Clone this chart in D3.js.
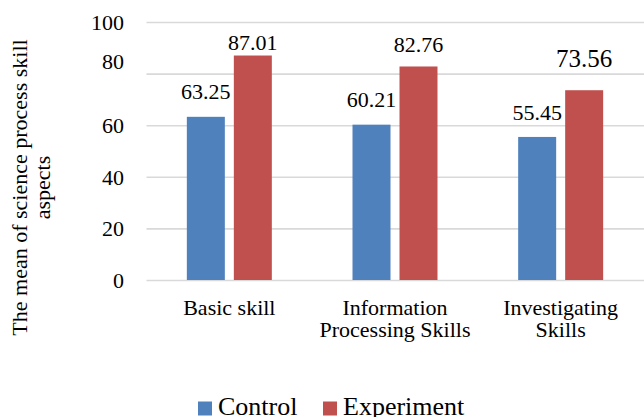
<!DOCTYPE html>
<html>
<head>
<meta charset="utf-8">
<script src="https://cdn.jsdelivr.net/npm/d3@7"></script>
<style>
  html, body { margin: 0; padding: 0; background: #fff; }
  svg { display: block; }
</style>
</head>
<body>
<svg id="chart" width="644" height="417"></svg>
<script>
// Mean scores of science process skill aspects
const categories = [["Basic skill"], ["Information", "Processing Skills"], ["Investigating", "Skills"]];
const seriesNames = ["Control", "Experiment"];
const controlValues = [63.25, 60.21, 55.45];
const experimentValues = [87.01, 82.76, 73.56];
const yTicks = [0, 20, 40, 60, 80, 100];
const seriesColors = ["#4F81BD", "#C0504D"];

const FONT = "Liberation Serif, Times New Roman, serif";
const svg = d3.select("#chart").attr("font-family", FONT);
const plot = { left: 146.5, right: 643.5, top: 22, bottom: 280 };

const catKeys = categories.map(c => c.join(" "));
const x0 = d3.scaleBand()
  .domain(catKeys)
  .range([plot.left, plot.right])
  .paddingInner(0.487)
  .paddingOuter(0.2435);
const x1 = d3.scaleBand()
  .domain(seriesNames)
  .range([0, x0.bandwidth()])
  .paddingInner(0.1915)
  .paddingOuter(0);
const y = d3.scaleLinear().domain([0, 100]).range([plot.bottom, plot.top]);

// Gridlines and value axis
const yAxis = d3.axisLeft(y)
  .tickValues(yTicks)
  .tickSizeInner(-(plot.right - plot.left) - 1)
  .tickSizeOuter(0)
  .tickPadding(22.5)
  .tickFormat(d3.format("d"));
const gy = svg.append("g")
  .attr("transform", `translate(${plot.left},0)`)
  .call(yAxis)
  .attr("font-family", FONT)
  .attr("font-size", 22);
gy.select(".domain").remove();
gy.selectAll(".tick line").attr("stroke", "#d9d9d9").attr("stroke-width", 1.6);
gy.selectAll(".tick text")
  .attr("fill", "#000")
  .attr("font-family", FONT)
  .attr("font-size", 22)
  .attr("dy", d => d === 80 ? "-0.22em" : "0.34em");

// Bars
const rows = catKeys.map((k, i) => ({
  key: k,
  values: [
    { name: seriesNames[0], value: controlValues[i], idx: i },
    { name: seriesNames[1], value: experimentValues[i], idx: i }
  ]
}));
const labelGap = { Control: [18, 18, 17], Experiment: [6, 14, 23] };
const labelSize = { Control: [22, 22, 22], Experiment: [22, 22, 25] };

const groups = svg.append("g").selectAll("g")
  .data(rows).join("g")
  .attr("transform", d => `translate(${x0(d.key)},0)`);

groups.selectAll("rect")
  .data(d => d.values).join("rect")
  .attr("x", d => x1(d.name))
  .attr("y", d => y(d.value))
  .attr("width", x1.bandwidth())
  .attr("height", d => y(0) - y(d.value))
  .attr("fill", (d, i) => seriesColors[i]);

groups.selectAll("text.val")
  .data(d => d.values).join("text")
  .attr("class", "val")
  .attr("x", d => x1(d.name) + x1.bandwidth() / 2)
  .attr("y", d => y(d.value) - labelGap[d.name][d.idx])
  .attr("text-anchor", "middle")
  .attr("font-family", FONT)
  .attr("font-size", d => labelSize[d.name][d.idx])
  .attr("fill", "#000")
  .text(d => d3.format(".2f")(d.value));

// Category labels
const catG = svg.append("g");
categories.forEach((lines, i) => {
  const cx = x0(catKeys[i]) + x0.bandwidth() / 2;
  const t = catG.append("text")
    .attr("text-anchor", "middle")
    .attr("font-family", FONT)
    .attr("font-size", 22)
    .attr("fill", "#000");
  lines.forEach((ln, j) => {
    t.append("tspan").attr("x", cx).attr("y", 315 + j * 21.5).text(ln);
  });
});

// Axis title
const title = svg.append("text")
  .attr("transform", "translate(0,187.5) rotate(-90)")
  .attr("text-anchor", "middle")
  .attr("font-family", FONT)
  .attr("font-size", 22)
  .attr("fill", "#000");
title.append("tspan").attr("x", 0).attr("y", 27).text("The mean of science process skill");
title.append("tspan").attr("x", 0).attr("y", 50).text("aspects");

// Legend
const legend = svg.append("g");
const legendItems = [
  { name: seriesNames[0], color: seriesColors[0], x: 198 },
  { name: seriesNames[1], color: seriesColors[1], x: 323 }
];
legendItems.forEach(it => {
  legend.append("rect")
    .attr("x", it.x).attr("y", 401.5)
    .attr("width", 14).attr("height", 14)
    .attr("fill", it.color);
  legend.append("text")
    .attr("x", it.x + 20).attr("y", 415)
    .attr("font-family", FONT)
    .attr("font-size", 26)
    .attr("fill", "#000")
    .text(it.name);
});
</script>
</body>
</html>
